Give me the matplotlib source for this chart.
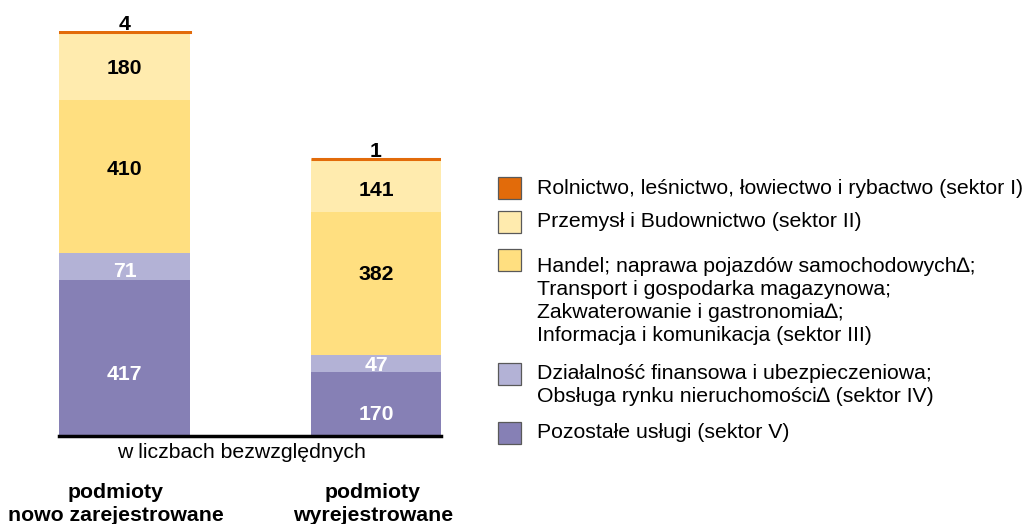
import matplotlib
matplotlib.use("Agg")
import matplotlib.pyplot as plt
from matplotlib.patches import Rectangle
import numpy as np

plt.rcParams['font.family'] = ['Liberation Sans', 'DejaVu Sans']

# Data: counts of entities by sector
categories = ["podmioty\nnowo zarejestrowane", "podmioty\nwyrejestrowane"]
sector_names = [
    "Pozostałe usługi (sektor V)",
    "Działalność finansowa i ubezpieczeniowa;\nObsługa rynku nieruchomości\u2206 (sektor IV)",
    "Handel; naprawa pojazdów samochodowych\u2206;\nTransport i gospodarka magazynowa;\nZakwaterowanie i gastronomia\u2206;\nInformacja i komunikacja (sektor III)",
    "Przemysł i Budownictwo (sektor II)",
    "Rolnictwo, leśnictwo, łowiectwo i rybactwo (sektor I)",
]
sektor_V = [417, 170]
sektor_IV = [71, 47]
sektor_III = [410, 382]
sektor_II = [180, 141]
sektor_I = [4, 1]

series = [sektor_V, sektor_IV, sektor_III, sektor_II, sektor_I]
colors = ["#8680B5", "#B3B2D6", "#FFDF80", "#FFEBAE", "#E26B0A"]
label_colors = ["white", "white", "black", "black", "black"]
# vertical nudge of each in-bar label (pixels, downward positive)
label_nudge_px = [[17, 10], [5, 2], [-7, -9], [2, 5], [0, 0]]

W, H = 1030, 524
fig = plt.figure(figsize=(W / 100, H / 100), dpi=100)

# axes: baseline at y=436 px, top of tallest bar at y=31 px
total_max = sum(s[0] for s in series)
ax = fig.add_axes([59 / W, (H - 436) / H, 382 / W, (436 - 31) / H])
x = np.arange(len(categories))
bar_w = 131 / 251.5
ax.set_xlim(-65.5 / 251.5, -65.5 / 251.5 + 382 / 251.5)
ax.set_ylim(0, total_max)

bottom = np.zeros(len(categories))
fs = 15.3
for i, (vals, col, lc) in enumerate(zip(series, colors, label_colors)):
    vals = np.array(vals, dtype=float)
    if i == len(series) - 1:
        ax.bar(x, vals, bar_w, bottom=bottom, color=col, edgecolor=col,
               linewidth=2.2, zorder=3)
        for xi, v, b in zip(x, vals, bottom):
            ax.annotate(f"{int(v)}", (xi, b + v), xytext=(0, -2),
                        textcoords="offset points", ha="center", va="bottom",
                        fontsize=fs, fontweight="bold", color=lc)
    else:
        ax.bar(x, vals, bar_w, bottom=bottom, color=col, linewidth=0, zorder=2)
        for j, (xi, v, b) in enumerate(zip(x, vals, bottom)):
            ax.annotate(f"{int(v)}", (xi, b + v / 2),
                        xytext=(0, -label_nudge_px[i][j] * 0.72),
                        textcoords="offset points", ha="center", va="center",
                        fontsize=fs, fontweight="bold", color=lc)
    bottom += vals

for s in ["top", "right", "left"]:
    ax.spines[s].set_visible(False)
ax.spines["bottom"].set_linewidth(2.5)
ax.spines["bottom"].set_color("black")
ax.set_yticks([])
ax.set_xticks([])
ax.patch.set_alpha(0)

# caption under the axis
fig.text(241 / W, 1 - 453 / H, "w liczbach bezwzględnych", ha="center",
         va="center", fontsize=fs)

# category labels
for xc, cat in zip([116, 373], categories):
    fig.text(xc / W, 1 - 504 / H, cat, ha="center", va="center",
             fontsize=fs, fontweight="bold", linespacing=1.25)

# legend
legend_rows = [
    (4, 177, 187),
    (3, 211, 220),
    (2, 249, 265),
    (1, 363, 372),
    (0, 422, 431),
]
for idx, box_top, text_y in legend_rows:
    fig.patches.append(Rectangle((498 / W, 1 - (box_top + 22) / H), 23 / W, 22 / H,
                                 transform=fig.transFigure, facecolor=colors[idx],
                                 edgecolor="#595959", linewidth=0.9))
    fig.text(537 / W, 1 - (text_y - 8) / H, sector_names[idx], ha="left",
             va="top", fontsize=fs, linespacing=1.27)

fig.savefig("out.png", dpi=100)
